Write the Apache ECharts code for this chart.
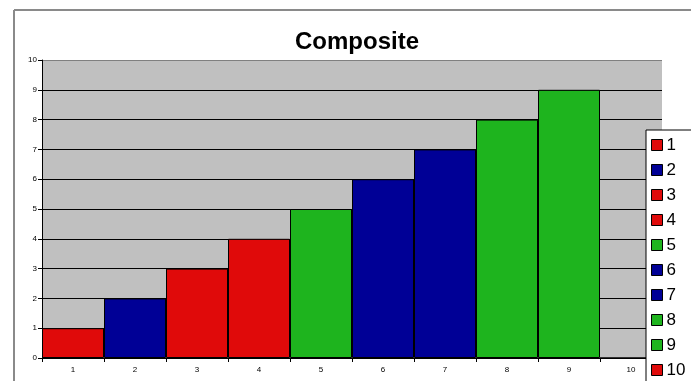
<!DOCTYPE html>
<html>
<head>
<meta charset="utf-8">
<script src="https://cdn.jsdelivr.net/npm/echarts@6/dist/echarts.min.js"></script>
<style>
html,body{margin:0;padding:0;background:#fff;}
#chart{width:691px;height:381px;}
</style>
</head>
<body>
<div id="chart"></div>
<script>
// Category names, bar heights and per-bar fills
const categories = ['1','2','3','4','5','6','7','8','9','10'];
const values = [1, 2, 3, 4, 5, 6, 7, 8, 9, 0];
const barColors = ['#E00A0A','#000096','#E00A0A','#E00A0A','#1EB41E','#000096','#000096','#1EB41E','#1EB41E','#E00A0A'];
const yTicks = [0, 10, 1]; // min, max, step

// One stacked series per category so every bar gets its own legend entry
const series = categories.map((name, i) => ({
  name: name,
  type: 'bar',
  stack: 'all',
  barCategoryGap: '0%',
  data: values.map((v, j) => (j === i ? v : '-')),
  itemStyle: { color: barColors[i], borderColor: '#000', borderWidth: 1 },
  emphasis: { disabled: true }
}));

// split lines 0..9 black, top edge gray
const splitColors = [];
for (let v = yTicks[0]; v <= yTicks[1]; v += yTicks[2]) splitColors.push(v === yTicks[1] ? '#808080' : '#000');

const chart = echarts.init(document.getElementById('chart'), null, { renderer: 'canvas' });
chart.setOption({
  animation: false,
  backgroundColor: '#fff',
  title: {
    text: 'Composite',
    left: 290, top: 25,
    textStyle: { fontFamily: 'Liberation Sans, Arial, sans-serif', fontWeight: 'bold', fontSize: 24, color: '#000' }
  },
  grid: {
    left: 42, right: 29, top: 60, bottom: 23,
    show: true, backgroundColor: '#C0C0C0', borderWidth: 0
  },
  xAxis: {
    type: 'category',
    data: categories,
    axisLine: { lineStyle: { color: '#000', width: 1 } },
    axisTick: { show: true, length: 4, lineStyle: { color: '#000' } },
    axisLabel: { fontSize: 8, color: '#000', margin: 8, fontFamily: 'Liberation Sans, Arial, sans-serif' },
    splitLine: { show: false }
  },
  yAxis: {
    type: 'value',
    min: yTicks[0], max: yTicks[1], interval: yTicks[2],
    axisLine: { show: true, lineStyle: { color: '#000', width: 1 } },
    axisTick: { show: true, length: 4, lineStyle: { color: '#000' } },
    axisLabel: { fontSize: 8, color: '#000', margin: 5, fontFamily: 'Liberation Sans, Arial, sans-serif' },
    splitLine: { show: true, lineStyle: { color: splitColors, width: 1 } }
  },
  legend: {
    orient: 'vertical',
    left: 646, top: 130,
    height: 320,
    data: categories,
    backgroundColor: '#fff',
    borderColor: '#000', borderWidth: 1,
    padding: [6, 40, 4, 5],
    itemWidth: 11, itemHeight: 11,
    itemGap: 7,
    icon: 'rect',
    itemStyle: { borderColor: '#000', borderWidth: 1 },
    selectedMode: false,
    textStyle: { fontSize: 17, lineHeight: 18, color: '#000', fontFamily: 'Liberation Sans, Arial, sans-serif', padding: [0, 0, 0, -1] }
  },
  graphic: [
    { type: 'line', shape: { x1: 14, y1: 10, x2: 14, y2: 381 }, style: { stroke: '#8a8a8a', lineWidth: 2 }, z: 100 },
    { type: 'line', shape: { x1: 14, y1: 10, x2: 691, y2: 10 }, style: { stroke: '#8a8a8a', lineWidth: 2 }, z: 100 }
  ],
  series: series
});
</script>
</body>
</html>
